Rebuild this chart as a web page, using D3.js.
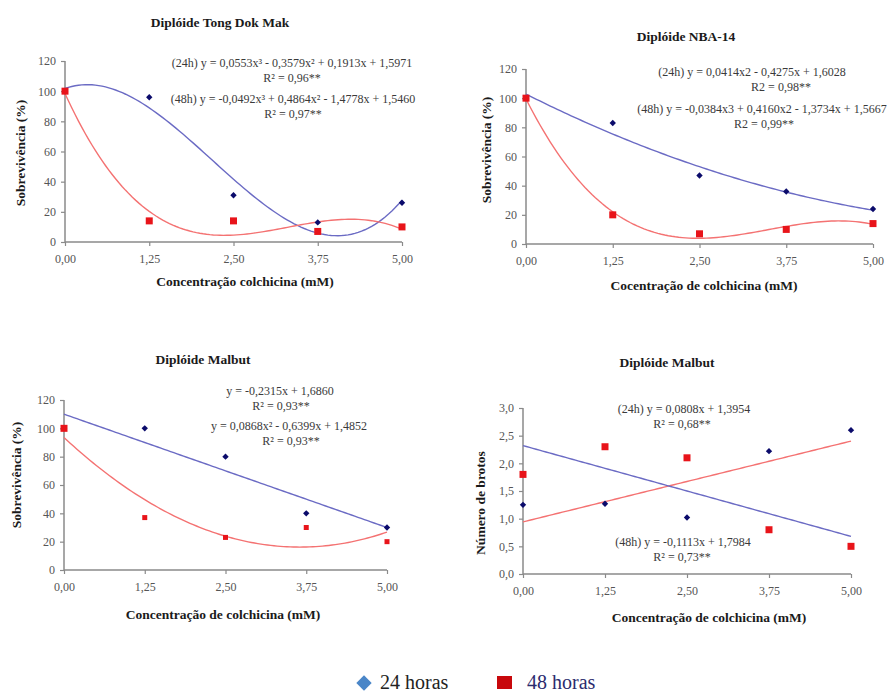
<!DOCTYPE html>
<html>
<head>
<meta charset="utf-8">
<script src="https://cdn.jsdelivr.net/npm/d3@7"></script>
</head>
<body style="margin:0; background:#fff">
<svg id="chart" width="887" height="693"></svg>
<script>
// Concentrações de colchicina (mM)
const concentrations = [0, 1.25, 2.5, 3.75, 5];
const xTickLabels = ['0,00', '1,25', '2,50', '3,75', '5,00'];

// Sobrevivência (%)
const tongDokMak24h = [100, 96, 31, 13, 26];
const tongDokMak48h = [100, 14, 14, 7, 10];
const nba14_24h = [100, 83, 47, 36, 24];
const nba14_48h = [100, 20, 7, 10, 14];
const malbut24h = [100, 100, 80, 40, 30];
const malbut48h = [100, 37, 23, 30, 20];

// Número de brotos
const malbutBrotos24h = [1.25, 1.27, 1.02, 2.22, 2.6];
const malbutBrotos48h = [1.8, 2.3, 2.1, 0.8, 0.5];

const survivalTicks = [0, 20, 40, 60, 80, 100, 120];
const brotosTicks = [0, 0.5, 1, 1.5, 2, 2.5, 3];

const BLUE_PT = '#0b0b6b', BLUE_LINE = '#6b6bc4';
const RED_PT = '#e8141a', RED_LINE = '#f47272';
const FONT = '"Liberation Serif"';

const svg = d3.select('#chart').style('font-family', FONT);

// least squares polynomial fit (Excel style trendline)
function polyFit(xs, ys, deg) {
  const n = deg + 1;
  const A = [];
  for (let i = 0; i < n; i++) {
    A.push([]);
    for (let j = 0; j < n; j++) A[i].push(d3.sum(xs, x => Math.pow(x, i + j)));
    A[i].push(d3.sum(xs, (x, k) => ys[k] * Math.pow(x, i)));
  }
  for (let c = 0; c < n; c++) {
    let p = c;
    for (let r = c + 1; r < n; r++) if (Math.abs(A[r][c]) > Math.abs(A[p][c])) p = r;
    [A[c], A[p]] = [A[p], A[c]];
    for (let r = 0; r < n; r++) {
      if (r === c) continue;
      const f = A[r][c] / A[c][c];
      for (let k = c; k <= n; k++) A[r][k] -= f * A[c][k];
    }
  }
  const coef = A.map((row, i) => row[n] / row[i]);
  return x => coef.reduce((s, a, i) => s + a * Math.pow(x, i), 0);
}

function addText(g, x, y, size, txt) {
  return g.append('text').attr('x', x).attr('y', y)
    .attr('text-anchor', 'middle').attr('font-size', size)
    .style('font-family', FONT).text(txt);
}

function drawPanel(cfg) {
  const x = d3.scaleLinear().domain([0, 5]).range([cfg.left, cfg.right]);
  const y = d3.scaleLinear().domain(cfg.yDomain).range([cfg.bottom, cfg.top]);
  const g = svg.append('g');

  // title
  addText(g, cfg.titleX, cfg.titleY, 13.5, cfg.title)
    .attr('font-weight', 'bold').attr('fill', '#1a1a1a');

  // axes
  const yAxis = g.append('g').attr('transform', `translate(${cfg.left},0)`)
    .call(d3.axisLeft(y).tickValues(cfg.yTicks).tickSize(4).tickPadding(5)
      .tickFormat(cfg.yFormat));
  const xAxis = g.append('g').attr('transform', `translate(0,${cfg.bottom})`)
    .call(d3.axisBottom(x).tickValues(concentrations).tickSize(4).tickPadding(8)
      .tickFormat((d, i) => xTickLabels[i]));
  [xAxis, yAxis].forEach(a => {
    a.style('font-family', FONT);
    a.select('.domain').attr('stroke', '#8a8a8a').attr('stroke-width', 1.5);
    a.selectAll('.tick line').attr('stroke', '#8a8a8a').attr('stroke-width', 1.2);
    a.selectAll('.tick text').attr('fill', '#555').attr('font-size', 12)
      .style('font-family', FONT);
  });
  yAxis.select('.domain').attr('d', `M0,${cfg.bottom}V${cfg.top}`);
  xAxis.select('.domain').attr('d', `M${cfg.left},0H${cfg.right}`);

  // axis titles
  addText(g, cfg.xTitleX, cfg.xTitleY, 13.5, cfg.xTitle)
    .attr('font-weight', 'bold').attr('fill', '#1a1a1a');
  addText(g, 0, 0, 13.5, cfg.yTitle)
    .attr('transform', `translate(${cfg.yTitleX},${cfg.yTitleY}) rotate(-90)`)
    .attr('font-weight', 'bold').attr('fill', '#1a1a1a');

  // trendlines
  const samples = d3.range(0, 5.0001, 0.05);
  cfg.series.forEach(s => {
    const f = polyFit(concentrations, s.values, s.degree);
    g.append('path').datum(samples)
      .attr('fill', 'none').attr('stroke', s.lineColor).attr('stroke-width', 1.4)
      .attr('d', d3.line().x(d => x(d)).y(d => y(f(d))));
  });

  // points
  cfg.series.forEach(s => {
    const pts = g.append('g').selectAll('path').data(s.values).join('path')
      .attr('transform', (d, i) => `translate(${x(concentrations[i])},${y(d)})`)
      .attr('fill', s.pointColor);
    if (s.shape === 'diamond') {
      pts.attr('d', d3.symbol().type(d3.symbolDiamond2).size(26));
    } else {
      pts.attr('d', (d, i) => {
        const sz = s.squareSizes ? s.squareSizes[i] : 7;
        return `M${-sz / 2},${-sz / 2}h${sz}v${sz}h${-sz}Z`;
      });
    }
  });

  // equations
  cfg.labels.forEach(l => {
    addText(g, l.x, l.y, 12, l.text).attr('fill', '#3a3a3a');
  });
}

const survFmt = d => d3.format('d')(d);
const brotosFmt = d => d3.format('.1f')(d).replace('.', ',');

drawPanel({
  title: 'Diplóide Tong Dok Mak', titleX: 220, titleY: 27,
  left: 65, right: 402, top: 61, bottom: 242,
  yDomain: [0, 120], yTicks: survivalTicks, yFormat: survFmt,
  xTitle: 'Concentração colchicina (mM)', xTitleX: 245, xTitleY: 286,
  yTitle: 'Sobrevivência (%)', yTitleX: 25, yTitleY: 153,
  series: [
    { values: tongDokMak24h, degree: 3, shape: 'diamond', pointColor: BLUE_PT, lineColor: BLUE_LINE },
    { values: tongDokMak48h, degree: 3, shape: 'square', pointColor: RED_PT, lineColor: RED_LINE }
  ],
  labels: [
    { x: 292, y: 67, text: '(24h) y = 0,0553x³ - 0,3579x² + 0,1913x + 1,5971' },
    { x: 292, y: 82, text: 'R² = 0,96**' },
    { x: 293, y: 103, text: '(48h) y = -0,0492x³ + 0,4864x² - 1,4778x + 1,5460' },
    { x: 293, y: 118, text: 'R² = 0,97**' }
  ]
});

drawPanel({
  title: 'Diplóide NBA-14', titleX: 686, titleY: 41,
  left: 526, right: 873, top: 69, bottom: 244,
  yDomain: [0, 120], yTicks: survivalTicks, yFormat: survFmt,
  xTitle: 'Cocentração de colchicina  (mM)', xTitleX: 704, xTitleY: 290,
  yTitle: 'Sobrevivência (%)', yTitleX: 491, yTitleY: 150,
  series: [
    { values: nba14_24h, degree: 2, shape: 'diamond', pointColor: BLUE_PT, lineColor: BLUE_LINE },
    { values: nba14_48h, degree: 3, shape: 'square', pointColor: RED_PT, lineColor: RED_LINE }
  ],
  labels: [
    { x: 752, y: 76, text: '(24h) y = 0,0414x2 - 0,4275x + 1,6028' },
    { x: 781, y: 91, text: 'R2 = 0,98**' },
    { x: 762, y: 113, text: '(48h) y = -0,0384x3 + 0,4160x2 - 1,3734x + 1,5667' },
    { x: 764, y: 128, text: 'R2 = 0,99**' }
  ]
});

drawPanel({
  title: 'Diplóide Malbut', titleX: 203, titleY: 364,
  left: 64, right: 387, top: 400, bottom: 570,
  yDomain: [0, 120], yTicks: survivalTicks, yFormat: survFmt,
  xTitle: 'Concentração de colchicina (mM)', xTitleX: 223, xTitleY: 619,
  yTitle: 'Sobrevivência (%)', yTitleX: 21, yTitleY: 475,
  series: [
    { values: malbut24h, degree: 1, shape: 'diamond', pointColor: BLUE_PT, lineColor: BLUE_LINE },
    { values: malbut48h, degree: 2, shape: 'square', pointColor: RED_PT, lineColor: RED_LINE,
      squareSizes: [7, 5, 5, 5, 5] }
  ],
  labels: [
    { x: 280, y: 395, text: 'y = -0,2315x + 1,6860' },
    { x: 281, y: 410, text: 'R² = 0,93**' },
    { x: 289, y: 430, text: 'y = 0,0868x² - 0,6399x + 1,4852' },
    { x: 291, y: 445, text: 'R² = 0,93**' }
  ]
});

drawPanel({
  title: 'Diplóide Malbut', titleX: 667, titleY: 367,
  left: 523, right: 851, top: 408, bottom: 574,
  yDomain: [0, 3], yTicks: brotosTicks, yFormat: brotosFmt,
  xTitle: 'Concentração de colchicina (mM)', xTitleX: 709, xTitleY: 622,
  yTitle: 'Número de brotos', yTitleX: 485, yTitleY: 503,
  series: [
    // as cores das linhas estão trocadas no original
    { values: malbutBrotos24h, degree: 1, shape: 'diamond', pointColor: BLUE_PT, lineColor: RED_LINE },
    { values: malbutBrotos48h, degree: 1, shape: 'square', pointColor: RED_PT, lineColor: BLUE_LINE }
  ],
  labels: [
    { x: 684, y: 413, text: '(24h) y = 0,0808x + 1,3954' },
    { x: 682, y: 428, text: 'R² = 0,68**' },
    { x: 683, y: 546, text: '(48h) y = -0,1113x + 1,7984' },
    { x: 682, y: 561, text: 'R² = 0,73**' }
  ]
});

// legend
const legend = svg.append('g');
legend.append('path').attr('transform', 'translate(364,683)')
  .attr('d', d3.symbol().type(d3.symbolDiamond2).size(150)).attr('fill', '#4a86c8');
legend.append('text').attr('x', 380).attr('y', 689).attr('font-size', 20)
  .style('font-family', FONT).attr('fill', '#222').text('24 horas');
legend.append('rect').attr('x', 497).attr('y', 676).attr('width', 15).attr('height', 13)
  .attr('fill', '#c8080c');
legend.append('text').attr('x', 527).attr('y', 689).attr('font-size', 20)
  .style('font-family', FONT).attr('fill', '#2b2b6e').text('48 horas');
</script>
</body>
</html>
